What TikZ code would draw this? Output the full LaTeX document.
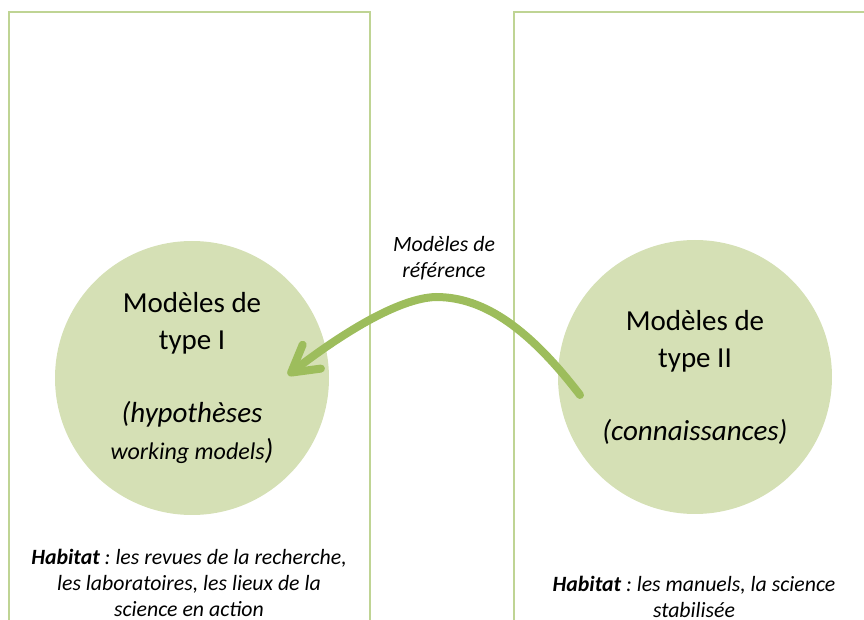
\documentclass[tikz,border=0pt]{standalone}
\usepackage{fontspec}
\setmainfont{Carlito}
\usepackage{tikz}
\usetikzlibrary{arrows.meta}
\usetikzlibrary{calc}
\usetikzlibrary{positioning}
\frenchspacing

\definecolor{habitatline}{HTML}{BFD494}
\definecolor{modelfill}{HTML}{D5E0B5}
\definecolor{arrowgreen}{HTML}{9DBD5C}

\begin{document}
\begin{tikzpicture}[x=0.5pt,y=-0.5pt,
		habitat/.style={draw=habitatline, line width=1.4pt},
		model/.style={circle, fill=modelfill, minimum size=137pt, inner sep=0pt, align=center, font=\fontsize{14.5}{18.5}\selectfont},
		legende/.style={align=center, font=\fontsize{10.9}{13}\selectfont\itshape},
		fleche/.style={draw=arrowgreen, line width=4pt, line cap=round, -{Straight Barb[length=13pt, width=15pt, round]}}]
		\clip (0,0) rectangle (864,620);
		\draw[habitat] (9,12) rectangle (370,700);
		\draw[habitat] (514,12) rectangle (900,700);
		\path 	(192,378)	node[model] (type1) 	{Modèles de\\type I\\[18pt]\textit{(hypothèses}\\\textit{{\fontsize{12}{14}\selectfont working models})}}
			(695,377)	node[model] (type2) 	{Modèles de\\type II\\[18pt]\textit{(connaissances)}}
			(444,258)	node[legende] (ref) 	{Modèles de\\référence}
			(189,583)	node[legende] (hab1) 	{\textbf{Habitat} : les revues de la recherche,\\les laboratoires, les lieux de la\\science en action}
			(694,597)	node[legende] (hab2) 	{\textbf{Habitat} : les manuels, la science\\stabilisée};
		\coordinate (depart) at ($(type2)+(-115,18)$);
		\coordinate (arrivee) at ($(type1)+(96,-3)$);
		\draw[fleche] (depart) .. controls (530,330) and (485,297) .. (436,297) .. controls (398,298) and (340,335) .. (arrivee);
	\end{tikzpicture}
\end{document}
